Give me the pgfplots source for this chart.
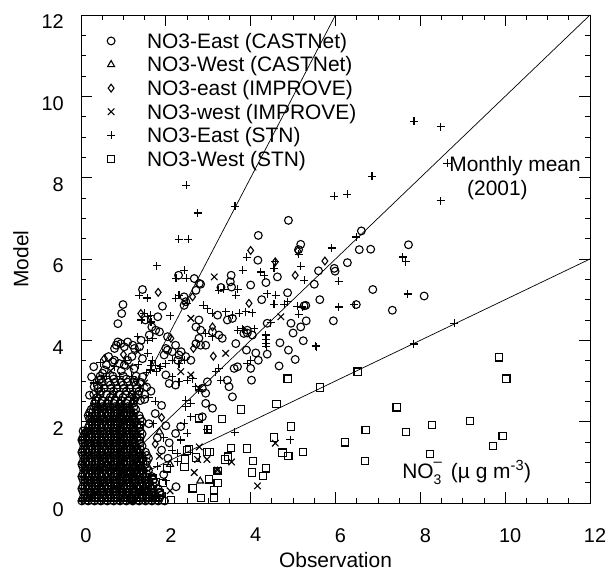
\documentclass[border=0pt]{standalone}
\usepackage{fontspec}
\setmainfont{Liberation Sans}
\usepackage{pgfplots}
\pgfplotsset{compat=1.18}
\begin{document}
\begin{tikzpicture}
\begin{axis}[
  at={(0,0)}, anchor=south west,
  scale only axis, width=509bp, height=488bp,
  xmin=0, xmax=12, ymin=0, ymax=12,
  xtick={0,2,4,6,8,10,12}, ytick={0,2,4,6,8,10,12},
  minor tick num=3,
  tick align=inside, tick pos=both,
  major tick length=11bp, minor tick length=5.5bp,
  every tick/.style={black, line width=0.8bp},
  axis line style={black, line width=0.9bp},
  /pgf/number format/assume math mode=true,
  ticklabel style={font=\fontsize{20}{24}\selectfont, inner sep=0pt},
  xticklabel style={anchor=north, yshift=-25bp, xshift=5bp},
  yticklabel style={anchor=east, xshift=-17bp, yshift=-7bp},
  xlabel={Observation}, ylabel={Model},
  label style={font=\fontsize{21}{25}\selectfont},
  xlabel style={at={(axis description cs:0.5,-0.1168)}, anchor=center},
  ylabel style={at={(axis description cs:-0.1179,0.5)}, anchor=center},
  clip=false,
  legend style={draw=none, fill=none, at={(axis description cs:0.0513,0.9678)}, anchor=north west, inner sep=0pt, outer sep=0pt, font=\fontsize{21}{25}\selectfont, row sep=3.1bp, nodes={inner sep=0pt, text height=17.5bp, text depth=3bp}, /tikz/every odd column/.append style={column sep=32bp}},
  legend cell align=left,
  legend image code/.code={\draw[#1] plot coordinates {(0bp,0bp)};},
  cstyle/.style={only marks, mark=o, mark size=3.9bp, line width=1.1bp, black},
  tstyle/.style={only marks, mark=triangle, mark size=4bp, line width=1.1bp, black},
  dstyle/.style={only marks, mark=diamond, mark size=3.9bp, line width=1.1bp, black},
  xstyle/.style={only marks, mark=x, mark size=4.6bp, line width=1.1bp, black},
  pstyle/.style={only marks, mark=+, mark size=4bp, line width=1.1bp, black},
  sstyle/.style={only marks, mark=square, mark size=3.6bp, line width=1.1bp, black},
]
\addplot[black, line width=0.7bp, forget plot] coordinates {(0,0) (6,12)};
\addplot[black, line width=0.7bp, forget plot] coordinates {(0,0) (12,12)};
\addplot[black, line width=0.7bp, forget plot] coordinates {(0,0) (12,6)};

% NO3-East (CASTNet): circles
\addplot[cstyle] coordinates {
(0.02,0.05)(0.17,0.05)(0.32,0.05)(0.47,0.05)(0.62,0.05)(0.77,0.05)(0.92,0.05)(1.07,0.05)(1.22,0.05)(1.37,0.05)(1.52,0.05)(1.67,0.05)(1.82,0.05)(1.97,0.05)
(0.09,0.2)(0.24,0.2)(0.39,0.2)(0.54,0.2)(0.69,0.2)(0.84,0.2)(0.99,0.2)(1.14,0.2)(1.29,0.2)(1.44,0.2)(1.59,0.2)(1.74,0.2)(1.89,0.2)
(0.02,0.35)(0.17,0.35)(0.32,0.35)(0.47,0.35)(0.62,0.35)(0.77,0.35)(0.92,0.35)(1.07,0.35)(1.22,0.35)(1.37,0.35)(1.52,0.35)(1.67,0.35)(1.82,0.35)
(0.09,0.5)(0.24,0.5)(0.39,0.5)(0.54,0.5)(0.69,0.5)(0.84,0.5)(0.99,0.5)(1.14,0.5)(1.29,0.5)(1.44,0.5)(1.59,0.5)(1.74,0.5)
(0.02,0.65)(0.17,0.65)(0.32,0.65)(0.47,0.65)(0.62,0.65)(0.77,0.65)(0.92,0.65)(1.07,0.65)(1.22,0.65)(1.37,0.65)(1.52,0.65)(1.67,0.65)
(0.09,0.8)(0.24,0.8)(0.39,0.8)(0.54,0.8)(0.69,0.8)(0.84,0.8)(0.99,0.8)(1.14,0.8)(1.29,0.8)(1.44,0.8)(1.59,0.8)
(0.02,0.95)(0.17,0.95)(0.32,0.95)(0.47,0.95)(0.62,0.95)(0.77,0.95)(0.92,0.95)(1.07,0.95)(1.22,0.95)(1.37,0.95)(1.52,0.95)
(0.09,1.1)(0.24,1.1)(0.39,1.1)(0.54,1.1)(0.69,1.1)(0.84,1.1)(0.99,1.1)(1.14,1.1)(1.29,1.1)(1.44,1.1)(1.59,1.1)
(0.02,1.25)(0.17,1.25)(0.32,1.25)(0.47,1.25)(0.62,1.25)(0.77,1.25)(0.92,1.25)(1.07,1.25)(1.22,1.25)(1.37,1.25)(1.52,1.25)
(0.09,1.4)(0.24,1.4)(0.39,1.4)(0.54,1.4)(0.69,1.4)(0.84,1.4)(0.99,1.4)(1.14,1.4)(1.29,1.4)(1.44,1.4)
(0.02,1.55)(0.17,1.55)(0.32,1.55)(0.47,1.55)(0.62,1.55)(0.77,1.55)(0.92,1.55)(1.07,1.55)(1.22,1.55)(1.37,1.55)
(0.09,1.7)(0.24,1.7)(0.39,1.7)(0.54,1.7)(0.69,1.7)(0.84,1.7)(0.99,1.7)(1.14,1.7)(1.29,1.7)(1.44,1.7)
(0.17,1.85)(0.32,1.85)(0.47,1.85)(0.62,1.85)(0.77,1.85)(0.92,1.85)(1.07,1.85)(1.22,1.85)(1.37,1.85)
(0.24,2.0)(0.39,2.0)(0.54,2.0)(0.69,2.0)(0.84,2.0)(0.99,2.0)(1.14,2.0)(1.29,2.0)(1.44,2.0)
(0.17,2.15)(0.32,2.15)(0.47,2.15)(0.62,2.15)(0.77,2.15)(0.92,2.15)(1.07,2.15)(1.22,2.15)(1.37,2.15)
(0.24,2.3)(0.39,2.3)(0.54,2.3)(0.69,2.3)(0.84,2.3)(0.99,2.3)(1.14,2.3)(1.29,2.3)
(0.32,2.45)(0.47,2.45)(0.62,2.45)(0.77,2.45)(0.92,2.45)(1.07,2.45)(1.22,2.45)
(0.39,2.6)(0.69,2.6)(0.99,2.6)(1.29,2.6)
(0.47,2.75)(0.77,2.75)(1.07,2.75)(1.37,2.75)
(0.39,2.9)(0.69,2.9)(0.99,2.9)(1.29,2.9)
(0.47,3.05)(0.77,3.05)(1.07,3.05)
(0.35,2.52)(0.5,2.52)(0.65,2.52)(0.8,2.52)(0.95,2.52)(1.1,2.52)(1.25,2.52)(1.4,2.52)
(0.3,2.67)(0.45,2.67)(0.6,2.67)(0.75,2.67)(0.9,2.67)(1.05,2.67)(1.2,2.67)(1.35,2.67)(1.5,2.67)
(0.4,2.82)(0.55,2.82)(0.7,2.82)(0.85,2.82)(1.0,2.82)(1.15,2.82)(1.3,2.82)
(0.5,2.97)(0.65,2.97)(0.8,2.97)(0.95,2.97)(1.1,2.97)(1.25,2.97)(1.4,2.97)
(0.45,3.12)(0.75,3.12)(1.0,3.12)(1.3,3.12)
(0.05,0.12)(0.2,0.12)(0.35,0.12)(0.5,0.12)(0.65,0.12)(0.8,0.12)(0.95,0.12)(1.1,0.12)(1.25,0.12)(1.4,0.12)(1.55,0.12)(1.7,0.12)(1.85,0.12)
(0.05,0.27)(0.2,0.27)(0.35,0.27)(0.5,0.27)(0.65,0.27)(0.8,0.27)(0.95,0.27)(1.1,0.27)(1.25,0.27)(1.4,0.27)(1.55,0.27)(1.7,0.27)(1.85,0.27)
(0.05,0.42)(0.2,0.42)(0.35,0.42)(0.5,0.42)(0.65,0.42)(0.8,0.42)(0.95,0.42)(1.1,0.42)(1.25,0.42)(1.4,0.42)(1.55,0.42)(1.7,0.42)
(0.05,0.57)(0.2,0.57)(0.35,0.57)(0.5,0.57)(0.65,0.57)(0.8,0.57)(0.95,0.57)(1.1,0.57)(1.25,0.57)(1.4,0.57)(1.55,0.57)(1.7,0.57)
(0.05,0.72)(0.2,0.72)(0.35,0.72)(0.5,0.72)(0.65,0.72)(0.8,0.72)(0.95,0.72)(1.1,0.72)(1.25,0.72)(1.4,0.72)(1.55,0.72)
(0.05,0.87)(0.2,0.87)(0.35,0.87)(0.5,0.87)(0.65,0.87)(0.8,0.87)(0.95,0.87)(1.1,0.87)(1.25,0.87)(1.4,0.87)(1.55,0.87)
(0.05,1.02)(0.2,1.02)(0.35,1.02)(0.5,1.02)(0.65,1.02)(0.8,1.02)(0.95,1.02)(1.1,1.02)(1.25,1.02)(1.4,1.02)(1.55,1.02)
(0.05,1.17)(0.2,1.17)(0.35,1.17)(0.5,1.17)(0.65,1.17)(0.8,1.17)(0.95,1.17)(1.1,1.17)(1.25,1.17)(1.4,1.17)(1.55,1.17)
(0.05,1.32)(0.2,1.32)(0.35,1.32)(0.5,1.32)(0.65,1.32)(0.8,1.32)(0.95,1.32)(1.1,1.32)(1.25,1.32)(1.4,1.32)
(0.05,1.47)(0.2,1.47)(0.35,1.47)(0.5,1.47)(0.65,1.47)(0.8,1.47)(0.95,1.47)(1.1,1.47)(1.25,1.47)(1.4,1.47)
(0.05,1.62)(0.2,1.62)(0.35,1.62)(0.5,1.62)(0.65,1.62)(0.8,1.62)(0.95,1.62)(1.1,1.62)(1.25,1.62)(1.4,1.62)
(0.05,1.77)(0.2,1.77)(0.35,1.77)(0.5,1.77)(0.65,1.77)(0.8,1.77)(0.95,1.77)(1.1,1.77)(1.25,1.77)(1.4,1.77)
(0.2,1.92)(0.35,1.92)(0.5,1.92)(0.65,1.92)(0.8,1.92)(0.95,1.92)(1.1,1.92)(1.25,1.92)(1.4,1.92)
(0.2,2.07)(0.35,2.07)(0.5,2.07)(0.65,2.07)(0.8,2.07)(0.95,2.07)(1.1,2.07)(1.25,2.07)(1.4,2.07)
(0.2,2.22)(0.35,2.22)(0.5,2.22)(0.65,2.22)(0.8,2.22)(0.95,2.22)(1.1,2.22)(1.25,2.22)
(0.35,2.37)(0.5,2.37)(0.65,2.37)(0.8,2.37)(0.95,2.37)(1.1,2.37)(1.25,2.37)
(0.30,3.35)(0.60,3.40)(0.95,3.25)(1.25,3.30)(1.45,3.10)(1.55,2.85)(1.50,2.55)(0.25,3.10)(0.65,3.60)(1.20,3.60)
(1.45,3.55)(1.95,0.70)(2.05,1.10)(1.90,1.30)(2.00,1.90)(1.80,1.60)(1.75,2.20)(1.90,2.40)(1.65,2.75)(1.60,1.95)
(2.30,5.60)(2.67,5.52)(2.79,5.40)(3.54,5.60)(3.52,5.44)(4.89,6.95)(4.18,6.58)(6.61,6.69)(5.18,6.36)(5.13,6.23)
(6.56,6.23)(6.83,6.24)(4.17,5.97)(7.72,6.35)(5.60,5.71)(5.97,5.77)(5.99,5.70)(6.28,5.91)(4.63,5.56)(4.36,5.42)
(4.00,5.36)(5.50,5.38)(6.88,5.25)(8.09,5.09)(5.63,5.00)(6.49,4.88)(5.26,4.85)(7.34,4.74)(5.31,4.48)(5.95,4.48)
(5.18,4.33)(5.24,3.99)(4.87,5.17)(4.26,5.00)(5.30,4.86)(4.39,4.42)(4.95,4.42)(5.00,4.18)(3.92,4.18)(4.04,4.13)
(4.69,3.94)(4.89,3.76)(3.90,3.76)(4.12,3.69)(4.39,3.66)(5.05,3.53)(4.18,3.51)(4.00,3.31)(4.67,3.37)(4.02,3.02)
(2.24,0.40)(2.08,1.48)(1.45,5.25)(1.92,4.84)(0.99,4.88)(0.96,4.66)(0.87,4.41)(2.43,5.07)(2.47,4.95)(2.71,5.23)
(2.82,5.38)(3.30,5.30)(3.55,5.31)(1.52,4.50)(1.67,4.33)(1.76,4.25)(2.43,4.86)(2.78,4.50)(2.71,4.33)(2.82,4.25)
(3.22,4.62)(3.57,4.54)(3.45,4.50)(3.92,4.25)(3.84,4.17)(3.10,4.21)(3.25,4.13)(3.33,4.05)(2.78,4.05)(2.71,3.92)
(2.82,3.88)(2.94,3.88)(3.65,3.92)(3.61,3.31)(3.69,3.35)(3.45,3.02)(3.49,2.86)(3.57,2.61)(2.98,2.98)(2.86,2.82)
(2.94,2.70)(2.23,3.88)(2.15,3.72)(2.31,3.64)(2.47,3.60)(2.59,3.51)(2.04,3.76)(1.96,3.64)(2.00,3.15)(2.08,2.94)
(2.23,2.90)(2.94,2.45)(3.10,2.33)(2.86,2.12)(2.23,1.71)(2.35,1.88)(0.87,3.96)(0.83,3.88)(0.94,3.92)(1.02,3.84)
(0.79,3.80)(1.10,3.96)(1.22,3.88)(1.26,3.80)(1.42,4.00)(1.38,3.84)(0.79,3.51)(0.75,3.47)(0.90,3.43)(1.02,3.39)
(1.10,3.51)(0.55,3.27)(0.51,3.19)(0.43,3.02)(0.31,2.86)(0.20,2.65)(1.81,4.58)(1.61,4.13)(1.85,4.21)(2.04,4.09)
(2.00,3.80)(2.36,3.72)(2.28,3.51)(0.13,1.75)
};
\addlegendentry{NO3-East (CASTNet)}

% NO3-West (CASTNet): triangles
\addplot[tstyle] coordinates {
(0.12,0.87)(0.27,0.87)(0.42,0.87)(0.57,0.87)(0.72,0.87)(0.87,0.87)(1.02,0.87)(1.17,0.87)(1.32,0.87)(1.47,0.87)
(0.27,2.07)(0.42,2.07)(0.57,2.07)(0.72,2.07)(0.87,2.07)(1.02,2.07)(1.17,2.07)
(2.81,0.54)(3.22,0.78)(1.85,1.75)(2.10,0.95)
};
\addlegendentry{NO3-West (CASTNet)}

% NO3-east (IMPROVE): diamonds
\addplot[dstyle] coordinates {
(0.12,0.57)(0.27,0.57)(0.42,0.57)(0.57,0.57)(0.72,0.57)(0.87,0.57)(1.02,0.57)(1.17,0.57)(1.32,0.57)(1.47,0.57)(1.62,0.57)
(0.12,1.17)(0.27,1.17)(0.42,1.17)(0.57,1.17)(0.72,1.17)(0.87,1.17)(1.02,1.17)(1.17,1.17)(1.32,1.17)(1.47,1.17)
(0.12,1.77)(0.27,1.77)(0.42,1.77)(0.57,1.77)(0.72,1.77)(0.87,1.77)(1.02,1.77)(1.17,1.77)(1.32,1.77)
(0.27,2.37)(0.42,2.37)(0.57,2.37)(0.72,2.37)(0.87,2.37)(1.02,2.37)(1.17,2.37)
(0.55,3.55)(1.00,3.65)(1.30,3.00)(1.75,1.45)(1.90,2.10)
(4.00,6.21)(5.11,6.20)(4.58,5.93)(5.75,5.95)(5.05,5.60)(3.96,4.91)(1.82,5.18)(1.41,4.66)(2.12,4.05)(3.12,3.61)
(2.63,5.07)(3.10,4.33)(2.65,3.80)
};
\addlegendentry{NO3-east (IMPROVE)}

% NO3-west (IMPROVE): crosses
\addplot[xstyle] coordinates {
(0.12,0.27)(0.27,0.27)(0.42,0.27)(0.57,0.27)(0.72,0.27)(0.87,0.27)(1.02,0.27)(1.17,0.27)(1.32,0.27)(1.47,0.27)(1.62,0.27)(1.77,0.27)
(0.12,1.47)(0.27,1.47)(0.42,1.47)(0.57,1.47)(0.72,1.47)(0.87,1.47)(1.02,1.47)(1.17,1.47)(1.32,1.47)
(0.40,2.67)(0.80,2.67)(1.20,2.67)(0.70,3.25)(1.15,3.35)(1.50,2.95)(1.85,1.15)(2.10,0.30)
(3.14,5.56)(4.71,4.58)(4.58,1.47)(4.16,0.42)(2.79,1.38)(2.75,1.07)(2.97,1.07)(3.55,1.01)(2.67,0.75)(3.22,0.81)
(2.59,4.54)(3.41,3.68)(2.35,3.23)(2.59,3.15)(2.78,2.82)(1.34,3.72)
(0.05,0.27)(0.2,0.27)(0.35,0.27)(0.5,0.27)(0.65,0.27)(0.8,0.27)(0.95,0.27)(1.1,0.27)(1.25,0.27)(1.4,0.27)(1.55,0.27)(1.7,0.27)
(0.05,0.57)(0.2,0.57)(0.35,0.57)(0.5,0.57)(0.65,0.57)(0.8,0.57)(0.95,0.57)(1.1,0.57)(1.25,0.57)(1.4,0.57)(1.55,0.57)
(0.05,0.87)(0.2,0.87)(0.35,0.87)(0.5,0.87)(0.65,0.87)(0.8,0.87)(0.95,0.87)(1.1,0.87)(1.25,0.87)(1.4,0.87)
(0.05,1.17)(0.2,1.17)(0.35,1.17)(0.5,1.17)(0.65,1.17)(0.8,1.17)(0.95,1.17)(1.1,1.17)(1.25,1.17)(1.4,1.17)
(0.05,1.47)(0.2,1.47)(0.35,1.47)(0.5,1.47)(0.65,1.47)(0.8,1.47)(0.95,1.47)(1.1,1.47)(1.25,1.47)
(0.05,1.77)(0.2,1.77)(0.35,1.77)(0.5,1.77)(0.65,1.77)(0.8,1.77)(0.95,1.77)(1.1,1.77)(1.25,1.77)
(0.2,2.07)(0.35,2.07)(0.5,2.07)(0.65,2.07)(0.8,2.07)(0.95,2.07)(1.1,2.07)(1.25,2.07)
(0.35,2.37)(0.5,2.37)(0.65,2.37)(0.8,2.37)(0.95,2.37)(1.1,2.37)
};
\addlegendentry{NO3-west (IMPROVE)}

% NO3-East (STN): plus
\addplot[pstyle] coordinates {
(0.05,0.12)(0.2,0.12)(0.35,0.12)(0.5,0.12)(0.65,0.12)(0.8,0.12)(0.95,0.12)(1.1,0.12)(1.25,0.12)(1.4,0.12)(1.55,0.12)(1.7,0.12)(1.85,0.12)
(0.05,0.42)(0.2,0.42)(0.35,0.42)(0.5,0.42)(0.65,0.42)(0.8,0.42)(0.95,0.42)(1.1,0.42)(1.25,0.42)(1.4,0.42)(1.55,0.42)(1.7,0.42)
(0.05,0.72)(0.2,0.72)(0.35,0.72)(0.5,0.72)(0.65,0.72)(0.8,0.72)(0.95,0.72)(1.1,0.72)(1.25,0.72)(1.4,0.72)(1.55,0.72)
(0.05,1.02)(0.2,1.02)(0.35,1.02)(0.5,1.02)(0.65,1.02)(0.8,1.02)(0.95,1.02)(1.1,1.02)(1.25,1.02)(1.4,1.02)(1.55,1.02)
(0.05,1.32)(0.2,1.32)(0.35,1.32)(0.5,1.32)(0.65,1.32)(0.8,1.32)(0.95,1.32)(1.1,1.32)(1.25,1.32)(1.4,1.32)
(0.05,1.62)(0.2,1.62)(0.35,1.62)(0.5,1.62)(0.65,1.62)(0.8,1.62)(0.95,1.62)(1.1,1.62)(1.25,1.62)(1.4,1.62)
(0.2,1.92)(0.35,1.92)(0.5,1.92)(0.65,1.92)(0.8,1.92)(0.95,1.92)(1.1,1.92)(1.25,1.92)(1.4,1.92)
(0.2,2.22)(0.35,2.22)(0.5,2.22)(0.65,2.22)(0.8,2.22)(0.95,2.22)(1.1,2.22)(1.25,2.22)
(0.35,2.52)(0.65,2.52)(0.95,2.52)(1.25,2.52)
(0.5,2.82)(0.8,2.82)(1.1,2.82)(1.4,2.82)
(0.6,3.12)(0.9,3.12)(1.2,3.12)
(0.45,3.45)(0.80,3.35)(1.05,3.50)(1.35,3.40)(1.55,3.20)(1.60,2.60)(0.30,2.95)
(1.80,0.90)(2.00,0.55)(1.95,1.60)(1.70,1.95)(1.75,2.50)
(0.02,0.05)(0.17,0.05)(0.32,0.05)(0.47,0.05)(0.62,0.05)(0.77,0.05)(0.92,0.05)(1.07,0.05)(1.22,0.05)(1.37,0.05)(1.52,0.05)(1.67,0.05)(1.82,0.05)
(0.09,0.2)(0.24,0.2)(0.39,0.2)(0.54,0.2)(0.69,0.2)(0.84,0.2)(0.99,0.2)(1.14,0.2)(1.29,0.2)(1.44,0.2)(1.59,0.2)(1.74,0.2)
(0.02,0.35)(0.17,0.35)(0.32,0.35)(0.47,0.35)(0.62,0.35)(0.77,0.35)(0.92,0.35)(1.07,0.35)(1.22,0.35)(1.37,0.35)(1.52,0.35)(1.67,0.35)
(0.09,0.5)(0.24,0.5)(0.39,0.5)(0.54,0.5)(0.69,0.5)(0.84,0.5)(0.99,0.5)(1.14,0.5)(1.29,0.5)(1.44,0.5)(1.59,0.5)
(0.02,0.65)(0.17,0.65)(0.32,0.65)(0.47,0.65)(0.62,0.65)(0.77,0.65)(0.92,0.65)(1.07,0.65)(1.22,0.65)(1.37,0.65)(1.52,0.65)
(0.09,0.8)(0.24,0.8)(0.39,0.8)(0.54,0.8)(0.69,0.8)(0.84,0.8)(0.99,0.8)(1.14,0.8)(1.29,0.8)(1.44,0.8)
(0.02,0.95)(0.17,0.95)(0.32,0.95)(0.47,0.95)(0.62,0.95)(0.77,0.95)(0.92,0.95)(1.07,0.95)(1.22,0.95)(1.37,0.95)
(0.09,1.1)(0.24,1.1)(0.39,1.1)(0.54,1.1)(0.69,1.1)(0.84,1.1)(0.99,1.1)(1.14,1.1)(1.29,1.1)(1.44,1.1)
(0.02,1.25)(0.17,1.25)(0.32,1.25)(0.47,1.25)(0.62,1.25)(0.77,1.25)(0.92,1.25)(1.07,1.25)(1.22,1.25)(1.37,1.25)
(0.09,1.4)(0.24,1.4)(0.39,1.4)(0.54,1.4)(0.69,1.4)(0.84,1.4)(0.99,1.4)(1.14,1.4)(1.29,1.4)
(0.02,1.55)(0.17,1.55)(0.32,1.55)(0.47,1.55)(0.62,1.55)(0.77,1.55)(0.92,1.55)(1.07,1.55)(1.22,1.55)
(0.09,1.7)(0.24,1.7)(0.39,1.7)(0.54,1.7)(0.69,1.7)(0.84,1.7)(0.99,1.7)(1.14,1.7)(1.29,1.7)
(0.17,1.85)(0.32,1.85)(0.47,1.85)(0.62,1.85)(0.77,1.85)(0.92,1.85)(1.07,1.85)(1.22,1.85)
(0.24,2.0)(0.39,2.0)(0.54,2.0)(0.69,2.0)(0.84,2.0)(0.99,2.0)(1.14,2.0)(1.29,2.0)
(0.17,2.15)(0.32,2.15)(0.47,2.15)(0.62,2.15)(0.77,2.15)(0.92,2.15)(1.07,2.15)(1.22,2.15)
(0.39,2.3)(0.54,2.3)(0.69,2.3)(0.84,2.3)(0.99,2.3)(1.14,2.3)
(2.48,7.81)(2.75,7.13)(2.30,6.48)(2.53,6.48)(3.63,7.30)(1.79,5.83)(3.91,6.04)(3.81,5.72)(2.44,5.72)(2.24,5.53)
(2.48,5.53)(6.86,8.03)(5.97,7.54)(6.28,7.59)(6.49,6.54)(5.91,6.27)(4.58,5.93)(5.13,6.12)(7.58,6.05)(7.66,5.93)
(5.18,5.82)(4.24,5.68)(4.32,5.60)(4.55,5.77)(5.26,5.48)(6.08,5.45)(8.64,8.35)(8.48,7.43)(7.70,5.14)(8.80,4.42)
(7.85,9.39)(8.48,9.25)(6.08,4.82)(6.44,4.88)(5.53,3.86)(7.84,3.91)(4.39,5.15)(4.59,5.11)(4.55,4.89)(4.87,4.95)
(4.79,4.89)(5.10,4.84)(5.22,4.82)(4.04,4.68)(5.13,4.64)(4.47,4.43)(3.84,4.25)(4.08,4.29)(4.36,4.13)(4.37,4.02)
(4.36,3.92)(4.37,3.84)(5.55,3.84)(4.00,3.51)(3.92,3.43)(4.93,1.56)(2.97,1.80)(3.62,1.74)(2.28,1.01)(1.56,5.04)
(1.64,4.62)(2.10,4.60)(2.31,5.11)(2.23,5.03)(2.51,4.91)(3.25,5.23)(3.37,5.25)(3.69,5.25)(3.65,5.11)(1.37,5.11)
(2.88,4.86)(2.98,4.78)(3.10,4.66)(3.41,4.70)(3.57,4.62)(3.73,4.66)(3.88,4.70)(3.69,4.25)(3.80,4.29)(2.94,4.17)
(3.10,4.09)(3.25,3.31)(3.18,3.23)(3.29,3.02)(2.63,3.06)(2.71,2.86)(2.78,2.78)(2.15,3.51)(2.31,3.43)(2.43,3.51)
(2.00,3.43)(1.88,3.35)(1.76,3.39)(1.68,3.51)(1.64,3.27)(2.15,3.10)(2.31,2.98)(2.51,3.02)(2.47,2.53)(2.59,2.45)
(2.47,2.37)(2.59,2.12)(2.43,1.96)(2.51,1.71)(2.35,1.55)(2.15,1.30)(2.27,1.22)(1.49,4.66)(1.57,4.58)(1.42,4.50)
(1.65,4.45)(1.34,4.09)(1.57,4.00)(1.69,4.05)(1.57,3.68)(1.65,3.39)(1.85,3.31)(1.77,3.23)
};
\addlegendentry{NO3-East (STN)}

% NO3-West (STN): squares
\addplot[sstyle] coordinates {
(6.52,3.23)(5.63,2.84)(9.86,3.58)(10.03,3.06)(7.44,2.35)(6.71,1.79)(7.66,1.74)(8.27,1.92)(9.17,2.01)(6.23,1.49)
(9.94,1.65)(9.72,1.41)(5.24,1.26)(6.70,1.03)(8.23,1.20)(4.87,3.06)(4.61,2.43)(3.78,2.30)(4.95,1.88)(4.55,1.61)
(4.75,1.24)(4.89,1.15)(3.92,1.34)(4.06,1.04)(4.36,0.85)(4.29,0.67)(4.03,0.75)(2.79,2.08)(2.99,1.81)(3.32,2.06)
(3.54,1.36)(2.97,1.26)(3.03,1.26)(2.50,1.29)(2.55,1.32)(2.71,1.12)(2.45,1.07)(3.46,1.14)(3.40,1.07)(2.44,0.89)
(2.03,0.85)(3.22,0.79)(3.01,0.58)(3.22,0.50)(1.77,0.52)(1.93,0.50)(2.63,0.36)(3.13,0.32)(2.83,0.13)(3.14,0.13)
(2.12,0.07)(0.30,0.15)(0.80,0.30)(1.20,0.10)(1.50,0.30)(1.70,0.60)(1.10,0.60)(0.60,0.90)(1.40,0.90)(0.40,0.50)
(1.60,0.15)(1.85,0.25)
};
\addlegendentry{NO3-West (STN)}

\node[anchor=base west, inner sep=0pt, font=\fontsize{21}{25}\selectfont] at (axis cs:8.68,8.16) {Monthly mean};
\node[anchor=base west, inner sep=0pt, font=\fontsize{21}{25}\selectfont] at (axis cs:9.10,7.57) {(2001)};
\node[anchor=base west, inner sep=0pt, font=\fontsize{21}{25}\selectfont] at (axis cs:7.57,0.61) {NO\rlap{\raisebox{-0.3em}{\fontsize{14}{14}\selectfont 3}}\raisebox{0.55em}{\fontsize{15}{15}\selectfont –}\hspace{0.15em} (µ g m\textsuperscript{-3})};
\end{axis}
\pgfresetboundingbox
\path (-81bp,-68bp) rectangle (529bp,503bp);
\end{tikzpicture}
\end{document}
